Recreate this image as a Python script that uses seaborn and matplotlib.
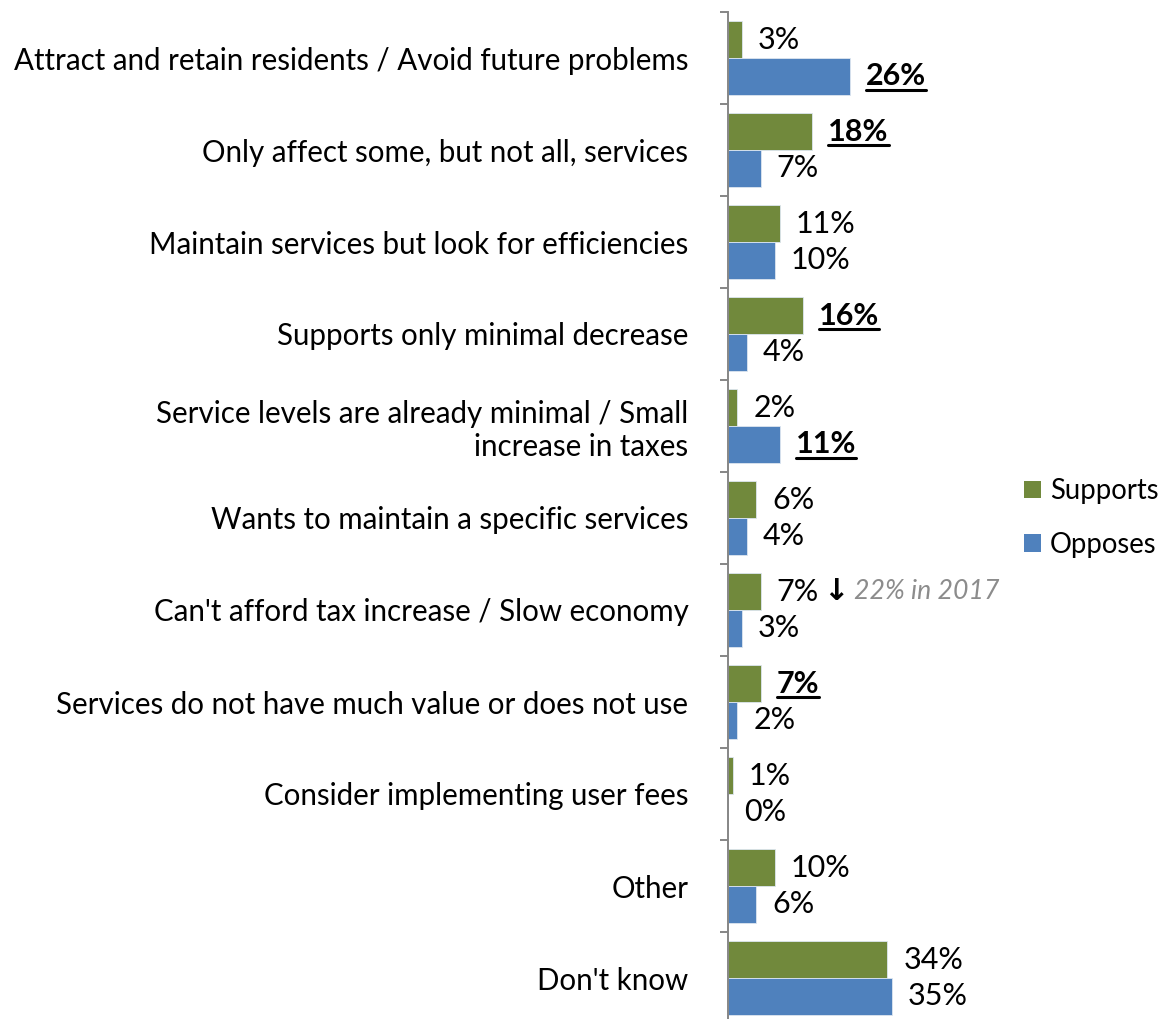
import matplotlib
matplotlib.use('Agg')
import matplotlib.pyplot as plt
import seaborn as sns
import pandas as pd
import numpy as np
from matplotlib.ticker import FixedLocator
from matplotlib.lines import Line2D
from matplotlib.patches import Patch

categories = [
    "Attract and retain residents / Avoid future problems",
    "Only affect some, but not all, services",
    "Maintain services but look for efficiencies",
    "Supports only minimal decrease",
    "Service levels are already minimal / Small\nincrease in taxes",
    "Wants to maintain a specific services",
    "Can't afford tax increase / Slow economy",
    "Services do not have much value or does not use",
    "Consider implementing user fees",
    "Other",
    "Don't know",
]
series = ["Supports", "Opposes"]
supports = [3, 18, 11, 16, 2, 6, 7, 7, 1, 10, 34]
opposes = [26, 7, 10, 4, 11, 4, 3, 2, 0, 6, 35]
highlighted = [("Opposes", 0), ("Supports", 1), ("Supports", 3), ("Opposes", 4), ("Supports", 7)]
note_category = 6
note_arrow = "\u2193"
note_text = "22% in 2017"

colors = {"Supports": "#71893C", "Opposes": "#4F81BD"}

sns.set_theme(style="white")
plt.rcParams['font.family'] = ['Lato', 'DejaVu Sans']
plt.rcParams['text.color'] = 'black'
plt.rcParams['ytick.color'] = 'black'

W, H = 1176, 1019
fig = plt.figure(figsize=(W / 100, H / 100), dpi=100)
ax = fig.add_axes([728 / W, -5 / H, 300 / W, 1012 / H])

df = pd.DataFrame({
    "Reason": categories * 2,
    "Response": ["Supports"] * len(categories) + ["Opposes"] * len(categories),
    "Value": supports + opposes,
})
sns.barplot(data=df, y="Reason", x="Value", hue="Response", order=categories,
            hue_order=series, orient="h", palette=colors, saturation=1, width=0.8,
            edgecolor="#DDE6F0", linewidth=0.6, ax=ax, legend=False)

px_per_pct = 4.69
ax.set_xlim(0, 300 / px_per_pct)
ax.set_ylim(len(categories) - 0.5, -0.5)
ax.set_xlabel("")
ax.set_ylabel("")
ax.set_xticks([])
for s in ["top", "right", "bottom"]:
    ax.spines[s].set_visible(False)
ax.spines["left"].set_color("#868686")
ax.spines["left"].set_linewidth(1.4)
ax.yaxis.set_minor_locator(FixedLocator(np.arange(-0.5, len(categories) + 0.5, 1)))
ax.tick_params(axis="y", which="major", length=0, pad=28.5, labelsize=20, labelcolor="black")
ax.tick_params(axis="y", which="minor", left=True, length=6, width=1.4,
               color="#868686", direction="out")
for lab in ax.get_yticklabels():
    lab.set_linespacing(1.2)

# fit label font size to reference width of the longest label
fig.canvas.draw()
r = fig.canvas.get_renderer()
lab0 = ax.get_yticklabels()[0]
w0 = lab0.get_window_extent(r).width
fs = 20 * 678 / w0
ax.tick_params(axis="y", which="major", labelsize=fs)

val_fs = fs * 1.03
texts = []
for hue_name, cont in zip(series, ax.containers):
    for i, bar in enumerate(cont):
        v = bar.get_width()
        bold = (hue_name, i) in highlighted
        t = ax.annotate(f"{int(round(v))}%", xy=(v, bar.get_y() + bar.get_height() / 2),
                        xytext=(11.5, 0), textcoords="offset points",
                        ha="left", va="center", fontsize=val_fs,
                        fontweight="bold" if bold else "normal", color="black")
        if bold:
            texts.append(t)
        if hue_name == "Supports" and i == note_category:
            y = bar.get_y() + bar.get_height() / 2
            ax.annotate(note_arrow, xy=(v, y), xytext=(45, 0), textcoords="offset points",
                        ha="left", va="center", fontsize=val_fs * 1.0,
                        fontweight="bold", color="black",
                        family=["DejaVu Sans"])
            ax.annotate(note_text, xy=(v, y), xytext=(67, 0), textcoords="offset points",
                        ha="left", va="center", fontsize=fs * 0.9,
                        style="italic", color="#8C8C8C")

fig.canvas.draw()
for t in texts:
    bb = t.get_window_extent(r)
    yline = bb.y0 + 0.5
    fig.add_artist(Line2D([bb.x0 / W, bb.x1 / W], [yline / H, yline / H],
                          transform=fig.transFigure, color="black", linewidth=2.2))

handles = [Patch(facecolor=colors[s], edgecolor="none") for s in series]
fig.legend(handles, series, loc="center left", bbox_to_anchor=(1024 / W, (H - 518) / H),
           frameon=False, fontsize=fs * 0.93, handlelength=0.6, handleheight=0.6,
           handletextpad=0.35, labelspacing=1.0, borderaxespad=0, borderpad=0)

fig.savefig("out.png", dpi=100)
